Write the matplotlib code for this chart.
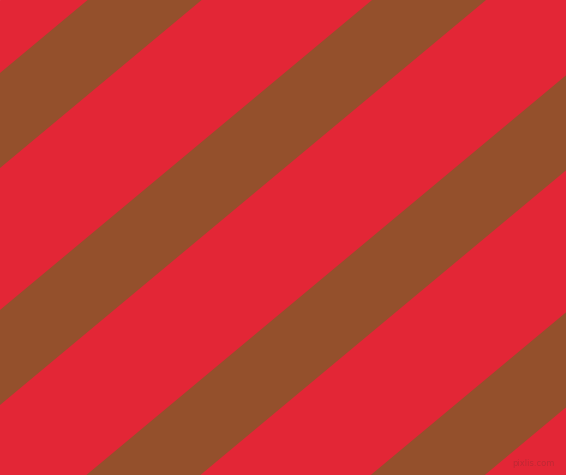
import matplotlib
matplotlib.use("Agg")
import matplotlib.pyplot as plt
import numpy as np

# stripe pattern (pixel units, y down)
W, H = 566, 475
slope = 60 / 72.0                    # dy/dx of the stripe edges
brown_starts = [73, 310, 547, 784]   # left-edge y where each brown band starts
brown_width = 95                     # vertical thickness of a brown band
red = "#e32636"
brown = "#94502c"

fig = plt.figure(figsize=(W / 100, H / 100), dpi=100)
ax = fig.add_axes([0, 0, 1, 1])
ax.set_xlim(0, W)
ax.set_ylim(H, 0)
ax.axis("off")
ax.add_patch(plt.Rectangle((0, 0), W, H, color=red, zorder=0))

x = np.array([-10, W + 10])
for c in brown_starts:
    top = c - slope * x
    ax.fill_between(x, top, top + brown_width, color=brown, lw=0, zorder=1)

ax.text(555, 463, "pixlis.com", fontsize=6, color="#a82a33", alpha=0.6,
        ha="right", va="center", zorder=2)

fig.savefig("out.png", dpi=100)
